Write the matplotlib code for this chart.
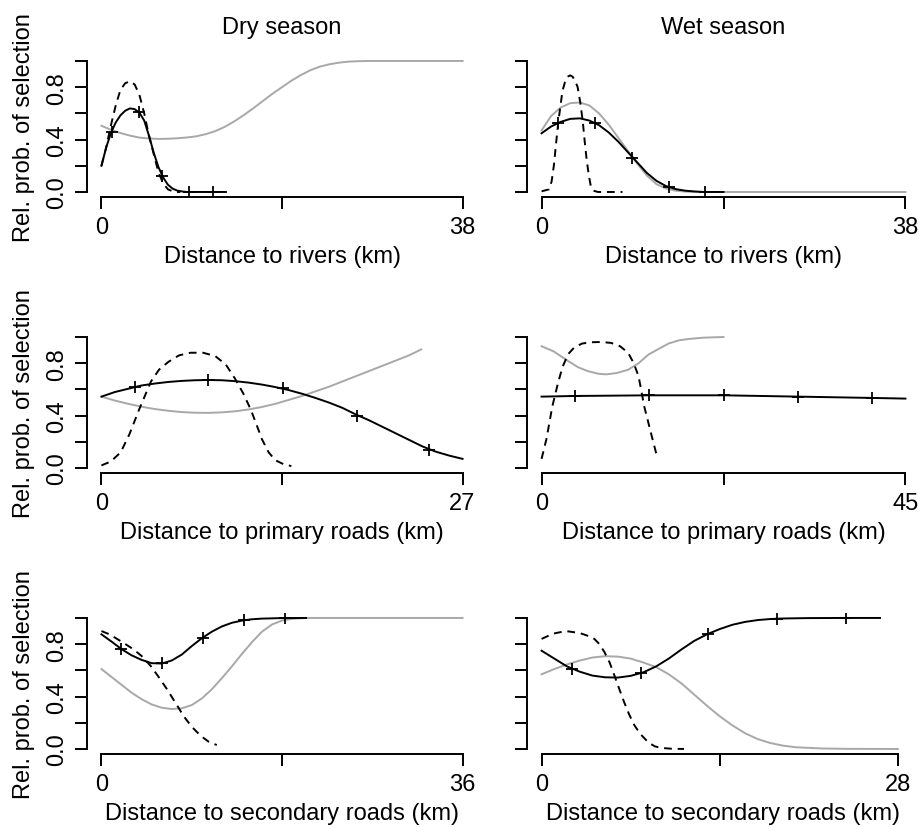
import numpy as np
import matplotlib.pyplot as plt

plt.rcParams['font.family'] = ['Liberation Sans', 'DejaVu Sans']

# ---- dry season, distance to rivers ----
dry_riv_grey_x = [0, 1, 2, 3, 4, 5, 6, 7, 8, 9, 10, 11, 12, 13, 14, 15, 16, 17, 18, 19, 20,
                  21, 22, 23, 24, 25, 26, 27, 28, 33, 38]
dry_riv_grey_y = [0.505, 0.475, 0.45, 0.43, 0.415, 0.408, 0.405, 0.406, 0.41, 0.416, 0.425,
                  0.442, 0.465, 0.498, 0.54, 0.588, 0.64, 0.695, 0.75, 0.80, 0.85, 0.893,
                  0.93, 0.957, 0.975, 0.987, 0.995, 0.998, 1.0, 1.0, 1.0]
dry_riv_black_x = [0, 0.5, 1, 1.5, 2, 2.5, 3, 3.5, 4, 4.5, 5, 5.5, 6, 6.5, 7, 7.5, 8, 8.5, 9, 13.1]
dry_riv_black_y = [0.20, 0.34, 0.45, 0.53, 0.585, 0.62, 0.638, 0.632, 0.605, 0.545, 0.43,
                   0.30, 0.19, 0.11, 0.055, 0.025, 0.01, 0.004, 0.0, 0.0]
dry_riv_mark_x = [1.1, 3.9, 6.4, 9.2, 11.7]
dry_riv_mark_y = [0.46, 0.61, 0.125, 0.0, 0.0]
dry_riv_dash_x = [0, 0.5, 1, 1.5, 2, 2.5, 3, 3.5, 4, 4.5, 5, 5.5, 6, 6.5, 7, 7.5, 8, 8.3]
dry_riv_dash_y = [0.20, 0.34, 0.51, 0.66, 0.78, 0.83, 0.845, 0.82, 0.74, 0.60, 0.43, 0.29,
                  0.15, 0.065, 0.02, 0.005, 0.0, 0.0]

# ---- wet season, distance to rivers ----
wet_riv_grey_x = [0, 1, 2, 3, 4, 5, 6, 7, 8, 9, 10, 11, 12, 13, 14, 15, 16, 38]
wet_riv_grey_y = [0.47, 0.58, 0.645, 0.678, 0.683, 0.66, 0.60, 0.515, 0.415, 0.315, 0.215,
                  0.125, 0.06, 0.027, 0.01, 0.003, 0.0, 0.0]
wet_riv_black_x = [0, 1, 2, 3, 4, 5, 6, 7, 8, 9, 10, 11, 12, 13, 14, 15, 16, 17, 19]
wet_riv_black_y = [0.448, 0.50, 0.535, 0.558, 0.562, 0.545, 0.51, 0.455, 0.385, 0.305,
                   0.225, 0.145, 0.085, 0.045, 0.022, 0.01, 0.004, 0.0, 0.0]
wet_riv_mark_x = [1.76, 5.6, 9.47, 13.27, 17.07]
wet_riv_mark_y = [0.527, 0.524, 0.26, 0.035, 0.0]
wet_riv_dash_x = [0, 0.78, 1.05, 1.3, 1.5, 1.76, 2.18, 2.45, 2.71, 3.0, 3.24, 3.5, 3.77,
                  4.05, 4.3, 4.5, 4.72, 4.95, 5.17, 5.5, 5.9, 8.45]
wet_riv_dash_y = [0.005, 0.02, 0.08, 0.21, 0.36, 0.54, 0.77, 0.84, 0.88, 0.89, 0.88, 0.85,
                  0.80, 0.68, 0.54, 0.39, 0.24, 0.12, 0.035, 0.008, 0.0, 0.0]

# ---- dry season, distance to primary roads ----
dry_pri_grey_x = [0, 1, 2, 3, 4, 5, 6, 7, 8, 9, 10, 11, 12, 13, 14, 15, 16, 17, 18, 19, 20,
                  21, 22, 23, 23.9]
dry_pri_grey_y = [0.545, 0.515, 0.49, 0.468, 0.45, 0.437, 0.427, 0.422, 0.421, 0.425, 0.433,
                  0.447, 0.466, 0.49, 0.52, 0.55, 0.585, 0.62, 0.66, 0.70, 0.74, 0.78, 0.82,
                  0.86, 0.905]
dry_pri_black_x = [0, 1, 2, 3, 4, 5, 6, 7, 8, 9, 10, 11, 12, 13, 14, 15, 16, 17, 18, 19, 20,
                   21, 22, 23, 24, 25, 26, 27]
dry_pri_black_y = [0.545, 0.58, 0.605, 0.63, 0.645, 0.657, 0.665, 0.67, 0.672, 0.67, 0.663,
                   0.652, 0.637, 0.618, 0.595, 0.567, 0.535, 0.50, 0.46, 0.41, 0.365, 0.315,
                   0.265, 0.215, 0.165, 0.125, 0.095, 0.07]
dry_pri_mark_x = [2.5, 8.0, 13.55, 19.1, 24.5]
dry_pri_mark_y = [0.62, 0.67, 0.61, 0.40, 0.14]
dry_pri_dash_x = [0, 0.7, 1.44, 2.1, 2.83, 3.7, 4.3, 5.0, 5.8, 6.66, 7.6, 8.5, 9.3, 10.0,
                  10.6, 11.15, 11.6, 12.0, 12.5, 13.0, 13.6, 14.2]
dry_pri_dash_y = [0.02, 0.05, 0.12, 0.26, 0.45, 0.66, 0.75, 0.81, 0.86, 0.88, 0.88, 0.855,
                  0.79, 0.68, 0.57, 0.45, 0.33, 0.22, 0.12, 0.06, 0.03, 0.015]

# ---- wet season, distance to primary roads ----
wet_pri_grey_x = [0, 1.5, 3.2, 4.5, 5.7, 7, 8, 9.3, 10.7, 12, 13.2, 14.5, 15.7, 17, 18.2,
                  20, 22.5]
wet_pri_grey_y = [0.93, 0.89, 0.82, 0.77, 0.74, 0.72, 0.715, 0.725, 0.75, 0.80, 0.865, 0.91,
                  0.95, 0.975, 0.985, 0.995, 1.0]
wet_pri_black_x = [0, 4.17, 13.3, 22.6, 31.75, 40.9, 45]
wet_pri_black_y = [0.545, 0.55, 0.555, 0.555, 0.545, 0.535, 0.53]
wet_pri_mark_x = [4.17, 13.3, 22.6, 31.75, 40.9]
wet_pri_mark_y = [0.55, 0.555, 0.555, 0.545, 0.535]
wet_pri_dash_x = [0, 0.6, 1.33, 2.0, 2.58, 3.3, 4.04, 5, 6.1, 7.4, 8.6, 9.7, 10.7, 11.4,
                  12.0, 12.7, 13.6, 14.25]
wet_pri_dash_y = [0.07, 0.22, 0.47, 0.64, 0.77, 0.87, 0.92, 0.95, 0.96, 0.962, 0.955, 0.93,
                  0.88, 0.80, 0.70, 0.47, 0.25, 0.095]

# ---- dry season, distance to secondary roads ----
dry_sec_grey_x = [0, 1, 2, 3, 4, 5, 6, 7, 8, 9, 10, 11, 12, 13, 14, 15, 16, 17, 18, 19, 20,
                  21, 36]
dry_sec_grey_y = [0.61, 0.55, 0.49, 0.43, 0.38, 0.34, 0.315, 0.305, 0.31, 0.335, 0.385,
                  0.455, 0.54, 0.63, 0.725, 0.815, 0.895, 0.95, 0.98, 0.993, 0.998, 1.0, 1.0]
dry_sec_black_x = [0, 1, 2, 3, 4, 5, 6, 7, 8, 9, 10, 11, 12, 13, 14, 15, 16, 18, 20.4]
dry_sec_black_y = [0.875, 0.82, 0.762, 0.715, 0.68, 0.655, 0.652, 0.675, 0.72, 0.785, 0.845,
                   0.895, 0.935, 0.963, 0.98, 0.99, 0.995, 0.999, 1.0]
dry_sec_mark_x = [1.9, 6.0, 10.1, 14.25, 18.3]
dry_sec_mark_y = [0.766, 0.655, 0.85, 0.985, 0.998]
dry_sec_dash_x = [0, 0.8, 1.56, 2.4, 3.2, 4.0, 4.9, 5.7, 6.5, 7.4, 8.2, 9.0, 9.9, 10.7, 11.5]
dry_sec_dash_y = [0.90, 0.875, 0.84, 0.80, 0.76, 0.71, 0.635, 0.55, 0.46, 0.35, 0.25, 0.17,
                  0.10, 0.055, 0.03]

# ---- wet season, distance to secondary roads ----
wet_sec_grey_x = [0, 1, 2, 3, 4, 5, 6, 7, 8, 9, 10, 11, 12, 13, 14, 15, 16, 17, 18, 19, 20,
                  22, 24, 28]
wet_sec_grey_y = [0.57, 0.61, 0.645, 0.675, 0.698, 0.708, 0.705, 0.69, 0.66, 0.625, 0.57,
                  0.50, 0.415, 0.33, 0.25, 0.18, 0.12, 0.075, 0.045, 0.025, 0.013, 0.004,
                  0.001, 0.0]
wet_sec_black_x = [0, 1, 2, 3, 4, 5, 6, 7, 8, 9, 10, 11, 12, 13, 14, 15, 16, 17, 18, 19, 21,
                   23.9, 26.6]
wet_sec_black_y = [0.75, 0.69, 0.63, 0.59, 0.56, 0.547, 0.545, 0.558, 0.585, 0.63, 0.69,
                   0.76, 0.825, 0.875, 0.915, 0.948, 0.97, 0.984, 0.992, 0.996, 0.999, 1.0,
                   1.0]
wet_sec_mark_x = [2.43, 7.85, 13.1, 18.5, 23.9]
wet_sec_mark_y = [0.61, 0.58, 0.88, 0.995, 1.0]
wet_sec_dash_x = [0, 0.9, 1.9, 3.0, 3.6, 4.15, 4.55, 4.94, 5.35, 5.73, 6.1, 6.5, 6.9, 7.3,
                  7.8, 8.4, 8.9, 9.4, 10.2, 11.2]
wet_sec_dash_y = [0.84, 0.88, 0.90, 0.885, 0.865, 0.84, 0.80, 0.74, 0.66, 0.56, 0.46, 0.355,
                  0.26, 0.18, 0.11, 0.05, 0.02, 0.008, 0.002, 0.0]

xlabels = ["Distance to rivers (km)", "Distance to primary roads (km)",
           "Distance to secondary roads (km)"]
axis_max = [[38, 38], [27, 45], [36, 28]]
range_max = [[38, 38], [27, 45], [36, 28.6]]
titles = ["Dry season", "Wet season"]

panels = [
    [(dry_riv_grey_x, dry_riv_grey_y, dry_riv_black_x, dry_riv_black_y,
      dry_riv_mark_x, dry_riv_mark_y, dry_riv_dash_x, dry_riv_dash_y),
     (wet_riv_grey_x, wet_riv_grey_y, wet_riv_black_x, wet_riv_black_y,
      wet_riv_mark_x, wet_riv_mark_y, wet_riv_dash_x, wet_riv_dash_y)],
    [(dry_pri_grey_x, dry_pri_grey_y, dry_pri_black_x, dry_pri_black_y,
      dry_pri_mark_x, dry_pri_mark_y, dry_pri_dash_x, dry_pri_dash_y),
     (wet_pri_grey_x, wet_pri_grey_y, wet_pri_black_x, wet_pri_black_y,
      wet_pri_mark_x, wet_pri_mark_y, wet_pri_dash_x, wet_pri_dash_y)],
    [(dry_sec_grey_x, dry_sec_grey_y, dry_sec_black_x, dry_sec_black_y,
      dry_sec_mark_x, dry_sec_mark_y, dry_sec_dash_x, dry_sec_dash_y),
     (wet_sec_grey_x, wet_sec_grey_y, wet_sec_black_x, wet_sec_black_y,
      wet_sec_mark_x, wet_sec_mark_y, wet_sec_dash_x, wet_sec_dash_y)],
]

fig = plt.figure(figsize=(9.19, 8.28), dpi=100)

col_left = [87 / 919, 527 / 919]
col_width = [390 / 919, 393 / 919]
row_bottom = [0.7606, 0.4272, 0.0879]
row_height = 0.1709
fs = 17

for r in range(3):
    for c in range(2):
        ax = fig.add_axes([col_left[c], row_bottom[r], col_width[c], row_height])
        gx, gy, bx, by, mx, my, dx, dy = panels[r][c]
        ax.plot(gx, gy, color='#a8a8a8', lw=1.4)
        ax.plot(bx, by, color='black', lw=1.4)
        ax.plot(mx, my, ls='none', marker='+', ms=9, mew=1.3, color='black')
        ax.plot(dx, dy, color='black', lw=1.4, ls=(0, (4, 3)))

        m = axis_max[r][c]
        M = range_max[r][c]
        ax.set_xlim(-0.04 * M, 1.04 * M)
        ax.set_ylim(-0.04, 1.04)
        for s in ['top', 'right']:
            ax.spines[s].set_visible(False)
        ax.spines['left'].set_bounds(0, 1)
        ax.spines['bottom'].set_bounds(0, m)
        ax.spines['left'].set_linewidth(1.4)
        ax.spines['bottom'].set_linewidth(1.4)
        ax.set_xticks([0, m / 2, m])
        ax.set_xticklabels(['0', '', str(m)])
        ax.set_yticks([0, 0.2, 0.4, 0.6, 0.8, 1.0])
        if c == 0:
            ax.set_yticklabels(['0.0', '', '0.4', '', '0.8', ''])
            ax.set_ylabel("Rel. prob. of selection", fontsize=fs, labelpad=8)
        else:
            ax.set_yticklabels([])
        ax.tick_params(direction='out', length=8.6, width=1.4, labelsize=fs, pad=5)
        for lab in ax.get_yticklabels():
            lab.set_rotation(90)
            lab.set_va('center')
        ax.set_xlabel(xlabels[r], fontsize=fs, labelpad=5)
        if r == 0:
            ax.set_title(titles[c], fontsize=fs, pad=16)

fig.savefig('out.png', dpi=100)
